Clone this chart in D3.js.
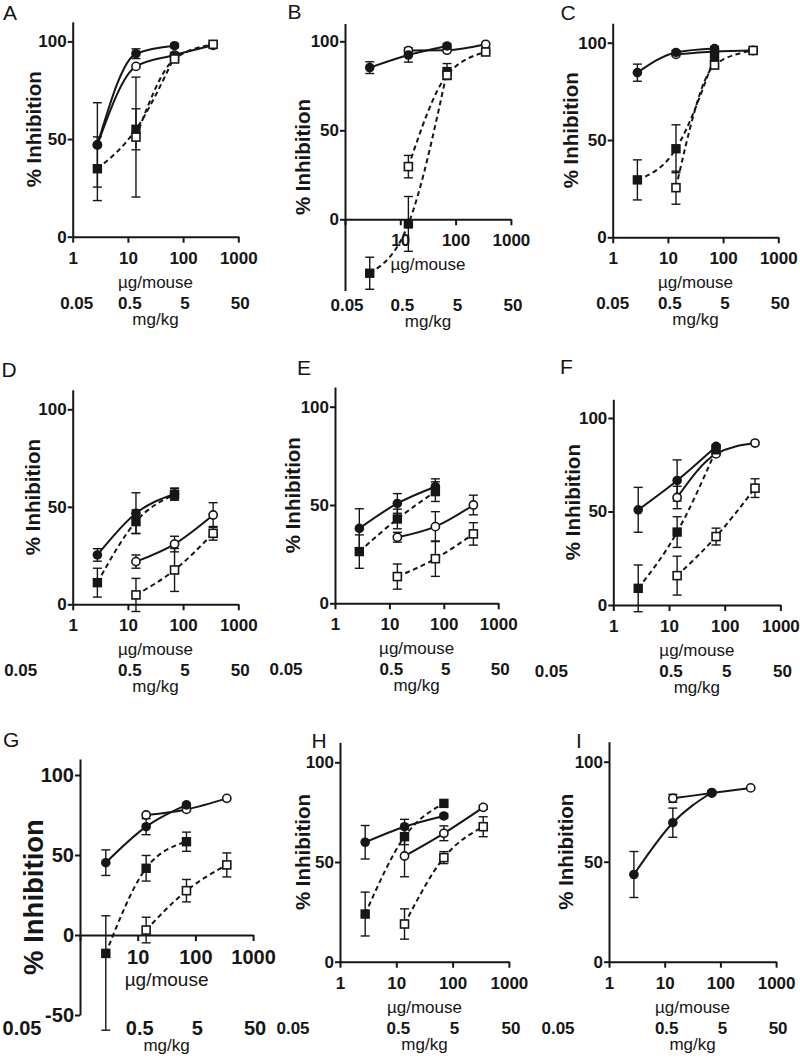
<!DOCTYPE html>
<html><head><meta charset="utf-8">
<script src="https://cdn.jsdelivr.net/npm/d3@7"></script>
<style>
body{margin:0;background:#fff}
svg{display:block}
</style>
</head><body>
<svg id="c" width="800" height="1060"></svg>
<script>
// ---------- DATA ----------
const doses = [2.8, 14, 70, 350];            // µg/mouse
const xTickValues = [1, 10, 100, 1000];
const xTickLabels = ["1", "10", "100", "1000"];
const mgTickLabels = ["0.05", "0.5", "5", "50"]; // mg/kg equivalents of xTickValues
const seriesNames = ["filledCircle", "openCircle", "filledSquare", "openSquare"];
const panelLetters = ["A", "B", "C", "D", "E", "F", "G", "H", "I"];
const yTicksStd = [0, 50, 100];
const yTicksG = [-50, 0, 50, 100];

// means per panel: rows = [filledCircle, openCircle, filledSquare, openSquare]
const A_means = [[47, 93.7, 97.8, null], [47, 87.2, 93, 98], [34.8, 55, 92.3, null], [null, 51, 91, 98.5]];
const A_errs  = [[21.6, 2.5, 1, null], [null, null, null, null], [16.3, 10.5, 1.5, null], [null, 30.7, null, 1]];
const B_means = [[85.2, 92.3, 97.4, null], [null, 94.8, 95, 98.3], [-30.3, -2.6, 83, null], [null, 29.6, 81, 94]];
const B_errs  = [[3.3, 4, 1, null], [null, null, null, null], [9, 15.4, 4.5, null], [null, 6.3, null, 1]];
const C_means = [[84.6, 95, 97, null], [null, 94, 95.5, 96], [29.5, 45.5, 92.8, null], [null, 25.5, 88.5, 96]];
const C_errs  = [[4.4, 1, 1, null], [null, null, null, null], [10.3, 12.3, null, null], [null, 8.5, 1.5, 1]];
const D_means = [[25.3, 46.7, 56.6, null], [null, 21.9, 30.9, 45.8], [11.1, 42.4, 56.4, null], [null, 4.8, 17.6, 36.4]];
const D_errs  = [[3.2, 10.5, 3, null], [null, 3.4, 4, 6.3], [7.4, 6, 3, null], [null, 8.5, 11, 3.5]];
const E_means = [[38.1, 50.8, 59.3, null], [null, 33.6, 39, 50], [26.3, 42.9, 56.8, null], [null, 13.6, 22.7, 35.3]];
const E_errs  = [[10, 5, 4, null], [null, 2.5, 7.6, 5], [8.5, 5, 5, null], [null, 6.4, 9, 5.7]];
const F_means = [[50.9, 66.6, 84.8, null], [null, 57.5, 80.8, 86.6], [8.9, 39, 83, null], [null, 15.7, 36.6, 62.5]];
const F_errs  = [[12, 11, 1, null], [null, 6, null, null], [12.5, 8.2, null, null], [null, 10.4, 4.5, 5]];
const G_means = [[45.2, 67.7, 81.3, null], [null, 75, 78.5, 85.4], [-11.5, 41.7, 58.3, null], [null, 3.1, 27.7, 43.8]];
const G_errs  = [[8, 5, 1, null], [null, null, null, null], [[48, 23.5], 8, 6, null], [null, 8, 7, 7.5]];
const H_means = [[59.9, 67.7, 73.1, null], [null, 53, 64.4, 77.4], [23.9, 62.7, 79.4, null], [null, 18.9, 52.2, 67.7]];
const H_errs  = [[8.4, 3.7, 1, null], [null, 10.4, 3.7, 1], [11, 4, null, null], [null, 7.6, 3, 5]];
const I_means = [[43.6, 69.5, 84.6, null], [null, 81.7, 84.3, 86.9], [null, null, null, null], [null, null, null, null]];
const I_errs  = [[11.5, 7.3, 1, null], [null, 2, null, null], [null, null, null, null], [null, null, null, null]];

// ---------- LAYOUT ----------
const layout = [
  {means: A_means, errs: A_errs, left: 72.7, decade: 55.2, zeroY: 236.7, unit: 1.953, yMin: 0,   lx: 3,   ly: 20,  tdx: -39, tdy: 0, mg0: 4},
  {means: B_means, errs: B_errs, left: 345,  decade: 55.3, zeroY: 219.3, unit: 1.78,  yMin: -40, lx: 287.5, ly: 18.5, tdx: -43, tdy: 0, mg0: 2},
  {means: C_means, errs: C_errs, left: 612.7,decade: 55.2, zeroY: 237.3, unit: 1.946, yMin: 0,   lx: 560.5, ly: 20, tdx: -42, tdy: 0, mg0: 0},
  {means: D_means, errs: D_errs, left: 72.7, decade: 55.2, zeroY: 604.3, unit: 1.95,  yMin: 0,   lx: 1.5, ly: 376.5, tdx: -40, tdy: 0, mg0: -52},
  {means: E_means, errs: E_errs, left: 335,  decade: 54.4, zeroY: 603.3, unit: 1.966, yMin: 0,   lx: 297, ly: 375, tdx: -42.5, tdy: 0, mg0: -49},
  {means: F_means, errs: F_errs, left: 613.3,decade: 55.7, zeroY: 605,   unit: 1.87,  yMin: 0,   lx: 560, ly: 373.5, tdx: -41, tdy: 0, mg0: -62},
  {means: G_means, errs: G_errs, left: 80,   decade: 57.7, zeroY: 935,   unit: 1.6,   yMin: -50, lx: 3,   ly: 746.5, tdx: -47, tdy: 10, mg0: -58, big: true},
  {means: H_means, errs: H_errs, left: 340,  decade: 56.3, zeroY: 961.7, unit: 1.994, yMin: 0,   lx: 311.5, ly: 748, tdx: -38, tdy: 0, mg0: -47},
  {means: I_means, errs: I_errs, left: 609,  decade: 55.7, zeroY: 961.7, unit: 2.0,   yMin: 0,   lx: 576, ly: 748, tdx: -44, tdy: 0, mg0: -51}
];

const INK = "#161616";
const FONT = "'Liberation Sans', Arial, Helvetica, sans-serif";
const svg = d3.select("#c");
svg.append("rect").attr("width", 800).attr("height", 1060).attr("fill", "#fff");

layout.forEach((p, pi) => {
  const g = svg.append("g");
  const yMax = 110;
  const x = d3.scaleLog().domain([1, 1000]).range([p.left, p.left + 3 * p.decade]);
  const y = d3.scaleLinear().domain([p.yMin, yMax])
    .range([p.zeroY - p.yMin * p.unit, p.zeroY - yMax * p.unit]);
  const tickFont = p.big ? 20 : 17;
  const yTicks = p.yMin <= -50 ? yTicksG : yTicksStd;

  // y axis
  const ya = d3.axisLeft(y).tickValues(yTicks).tickSize(5).tickPadding(1)
    .tickSizeOuter(0).tickFormat(d => String(d));
  const yg = g.append("g").attr("transform", `translate(${p.left},0)`).call(ya);
  yg.select(".domain").attr("stroke", INK).attr("stroke-width", 2);
  yg.selectAll(".tick line").attr("stroke", INK).attr("stroke-width", 2);
  yg.selectAll(".tick text").attr("fill", INK).attr("font-family", FONT)
    .attr("font-size", tickFont).attr("font-weight", "bold");

  // x axis at y = 0
  const axisY = y(0);
  const hideFirst = p.yMin < 0;
  const xa = d3.axisBottom(x).tickValues(xTickValues).tickSize(6).tickPadding(9)
    .tickSizeOuter(0).tickFormat((d, i) => (hideFirst && i === 0) ? "" : xTickLabels[i]);
  const xg = g.append("g").attr("transform", `translate(0,${axisY})`).call(xa);
  xg.select(".domain").attr("stroke", INK).attr("stroke-width", 2);
  xg.selectAll(".tick line").attr("stroke", INK).attr("stroke-width", 2);
  xg.selectAll(".tick text").attr("fill", INK).attr("font-family", FONT)
    .attr("font-size", tickFont).attr("font-weight", "bold");

  const midX = (x(1) + x(1000)) / 2;
  g.append("text").attr("x", midX).attr("y", axisY + 51)
    .attr("text-anchor", "middle").attr("font-family", FONT)
    .attr("font-size", p.big ? 19 : 17).attr("fill", INK).text("µg/mouse");

  const yBottom = y(p.yMin);
  const mgBase = Math.max(axisY + 72, yBottom + 20);
  g.selectAll("text.mg").data(mgTickLabels).enter().append("text")
    .attr("class", "mg")
    .attr("x", (d, i) => x(xTickValues[i]) + (i === 0 ? p.mg0 : 2))
    .attr("y", mgBase).attr("text-anchor", "middle")
    .attr("font-family", FONT).attr("font-size", p.big ? 20 : 17)
    .attr("font-weight", "bold").attr("fill", INK).text(d => d);
  g.append("text").attr("x", midX).attr("y", mgBase + 16)
    .attr("text-anchor", "middle").attr("font-family", FONT)
    .attr("font-size", 17).attr("fill", INK).text("mg/kg");

  // y title
  const midY = (y(p.yMin) + y(yMax)) / 2 + p.tdy;
  g.append("text").attr("transform", `translate(${p.left + p.tdx},${midY}) rotate(-90)`)
    .attr("text-anchor", "middle").attr("dominant-baseline", "central")
    .attr("font-family", FONT).attr("font-size", p.big ? 27.5 : 20.5)
    .attr("font-weight", "bold").attr("fill", INK).text("% Inhibition");

  // panel letter
  g.append("text").attr("x", p.lx).attr("y", p.ly).attr("font-family", FONT)
    .attr("font-size", 21).attr("fill", INK).text(panelLetters[pi]);

  // series data
  const series = seriesNames.map((name, si) => ({
    name,
    pts: doses.map((d, j) => ({dose: d, v: p.means[si][j], e: p.errs[si][j]}))
              .filter(o => o.v !== null)
  }));

  // lines
  const line = d3.line().x(d => x(d.dose)).y(d => y(d.v)).curve(d3.curveMonotoneX);
  series.forEach(s => {
    if (s.pts.length < 2) return;
    const dashed = s.name.indexOf("Square") >= 0;
    g.append("path").attr("d", line(s.pts)).attr("fill", "none")
      .attr("stroke", INK).attr("stroke-width", 2)
      .attr("stroke-dasharray", dashed ? "5,3.5" : null);
  });

  // error bars
  const cap = 4.5;
  series.forEach(s => {
    s.pts.filter(d => d.e !== null && d.e !== undefined).forEach(d => {
      const lo = Array.isArray(d.e) ? d.e[0] : d.e;
      const hi = Array.isArray(d.e) ? d.e[1] : d.e;
      const cx = x(d.dose), y1 = y(d.v - lo), y2 = y(d.v + hi);
      const eb = g.append("g").attr("stroke", INK).attr("stroke-width", 1.4);
      eb.append("line").attr("x1", cx).attr("x2", cx).attr("y1", y1).attr("y2", y2);
      eb.append("line").attr("x1", cx - cap).attr("x2", cx + cap).attr("y1", y1).attr("y2", y1);
      eb.append("line").attr("x1", cx - cap).attr("x2", cx + cap).attr("y1", y2).attr("y2", y2);
    });
  });

  // markers, drawn in order: open circles, filled circles, filled squares, open squares
  const order = ["openCircle", "filledCircle", "filledSquare", "openSquare"];
  order.forEach(name => {
    const s = series.find(t => t.name === name);
    s.pts.forEach(d => {
      const cx = x(d.dose), cy = y(d.v);
      if (name === "filledCircle") {
        g.append("circle").attr("cx", cx).attr("cy", cy).attr("r", 4.8).attr("fill", INK);
      } else if (name === "openCircle") {
        g.append("circle").attr("cx", cx).attr("cy", cy).attr("r", 4.1)
          .attr("fill", "#fff").attr("stroke", INK).attr("stroke-width", 1.6);
      } else if (name === "filledSquare") {
        g.append("rect").attr("x", cx - 4.7).attr("y", cy - 4.7).attr("width", 9.4).attr("height", 9.4).attr("fill", INK);
      } else {
        g.append("rect").attr("x", cx - 4).attr("y", cy - 4).attr("width", 8).attr("height", 8)
          .attr("fill", "#fff").attr("stroke", INK).attr("stroke-width", 1.6);
      }
    });
  });
});
</script>
</body></html>
